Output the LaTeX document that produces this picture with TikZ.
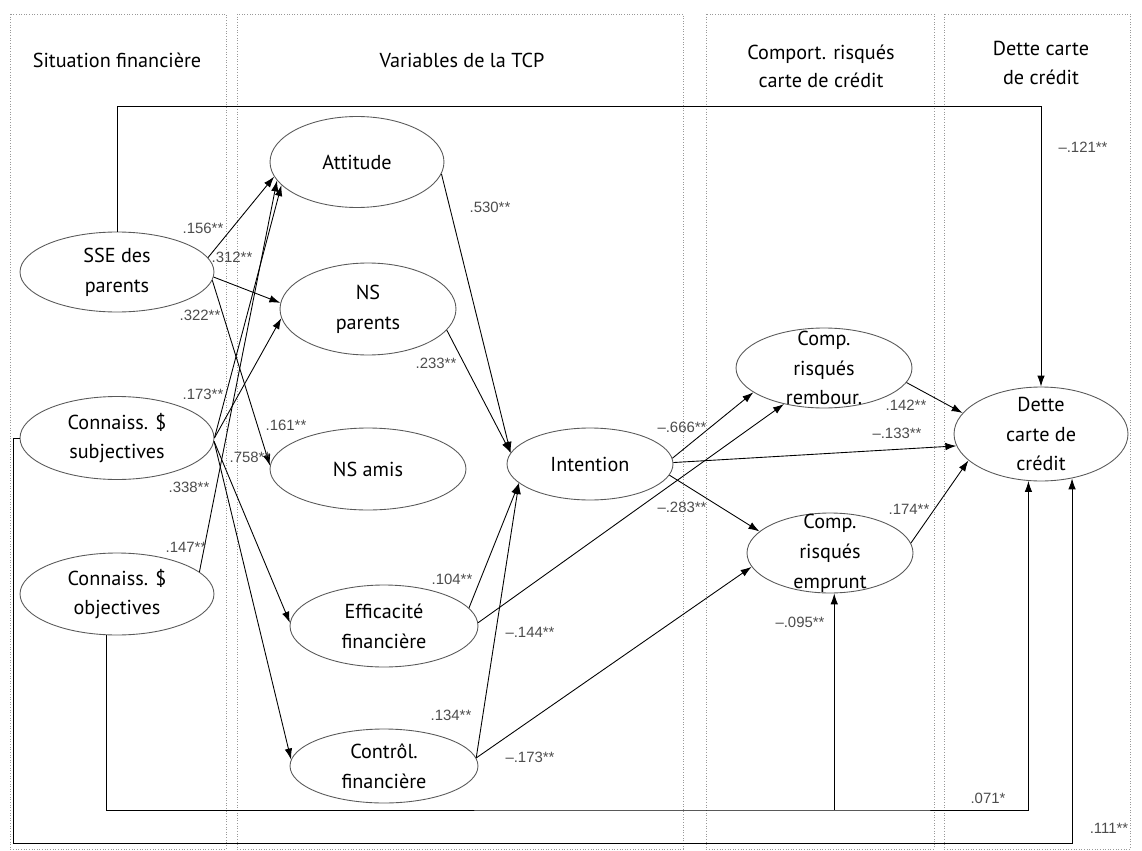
\documentclass[tikz,border=0pt]{standalone}
\usepackage{fontspec}
\setmainfont{PT Sans}
\newfontfamily\coeffont{Liberation Sans}
\usepackage{xcolor}
\usetikzlibrary{shapes.geometric,arrows.meta}

\definecolor{panelgray}{gray}{0.6}
\definecolor{ovalgray}{gray}{0.35}
\definecolor{coefgray}{gray}{0.3}

\begin{document}
\begin{tikzpicture}[x=0.02cm, y=-0.02cm]
        \tikzset{latent/.style={
            ellipse,
            draw=ovalgray,
            line width=0.5pt,
            inner sep=0pt,
            %
            label={[font=\fontsize{11.5}{17}\selectfont, align=center]center:#1},
        }}
        \tikzset{arrow/.style={
            line width=0.5pt,
            ->,
            >={Latex[length=2.2mm, width=1.5mm]}
        }}
        \tikzset{coef/.style={
            font=\coeffont\fontsize{8.5}{10}\selectfont,
            text=coefgray,
            inner sep=0pt
        }}
        \tikzset{panel/.style={
            draw=panelgray,
            densely dotted,
            line width=0.5pt
        }}
        \tikzset{head/.style={
            font=\fontsize{11.5}{16}\selectfont,
            align=center
        }}
        \useasboundingbox (0,0) rectangle (1142,851);

        % colonnes
        \draw[panel] (10,14) rectangle (226,849);
        \draw[panel] (237,14) rectangle (683,849);
        \draw[panel] (706,14) rectangle (934,849);
        \draw[panel] (944,14) rectangle (1130,849);
        \node[head] (h1) at (117,60) {Situation financière};
        \node[head] (h2) at (462,60) {Variables de la TCP};
        \node[head] (h3) at (821,66) {Comport. risqués\\carte de crédit};
        \node[head] (h4) at (1041,63) {Dette carte\\de crédit};

        % variables
        \node[latent={SSE des\\parents}, minimum width=3.88cm, minimum height=1.6cm] (sse) at (117,272) {};
        \node[latent={Connaiss. \$\\subjectives}, minimum width=3.88cm, minimum height=1.66cm] (subj) at (117,438) {};
        \node[latent={Connaiss. \$\\objectives}, minimum width=3.88cm, minimum height=1.64cm] (obj) at (117,594) {};
        \node[latent={Attitude}, minimum width=3.48cm, minimum height=1.82cm] (att) at (357,162) {};
        \node[latent={NS\\parents}, minimum width=3.52cm, minimum height=1.84cm] (nsp) at (368,309) {};
        \node[latent={NS amis}, minimum width=3.92cm, minimum height=1.64cm] (nsa) at (368,469) {};
        \node[latent={Efficacité\\financière}, minimum width=3.76cm, minimum height=1.64cm] (eff) at (384,626) {};
        \node[latent={Contrôl.\\financière}, minimum width=3.76cm, minimum height=1.48cm] (ctl) at (384,766) {};
        \node[latent={Intention}, minimum width=3.32cm, minimum height=1.44cm] (int) at (590,464) {};
        \node[latent={Comp.\\risqués\\rembour.}, minimum width=3.52cm, minimum height=1.6cm] (remb) at (824,368) {};
        \node[latent={Comp.\\risqués\\emprunt}, minimum width=3.32cm, minimum height=1.6cm] (empr) at (830,553) {};
        \node[latent={Dette\\carte de\\crédit}, minimum width=3.48cm, minimum height=1.88cm] (dette) at (1041,434) {};

        % situation financiere -> TCP
        \draw[arrow] (sse.9) -- (att.190);
        \draw[arrow] (sse.-3) -- (nsp.176);
        \draw[arrow] (sse.-5) -- (nsa.178);
        \draw[arrow] (subj.east) -- (att.197);
        \draw[arrow] (subj.east) -- (nsp.186);
        \draw[arrow] (subj.-2) -- (eff.178);
        \draw[arrow] (subj.-2) -- (ctl.176);
        \draw[arrow] (obj.15) -- (att.193);

        % TCP -> intention / comportements
        \draw[arrow] (att.-8) -- (int.172);
        \draw[arrow] (nsp.-15) -- (int.172);
        \draw[arrow] (eff.12) -- (int.195);
        \draw[arrow] (ctl.5) -- (int.195);
        \draw[arrow] (eff.2) -- (remb.222);
        \draw[arrow] (ctl.5) -- (empr.190);
        \draw[arrow] (int.4) -- (remb.199);
        \draw[arrow] (int.1) -- (dette.188);
        \draw[arrow] (int.-8) -- (empr.163);
        \draw[arrow] (remb.-10) -- (dette.165);
        \draw[arrow] (empr.7) -- (dette.200);

        % chemins directs
        \coordinate (top1) at (117,106);
        \draw[arrow] (sse.north) -- (top1) -| (dette.north);
        \coordinate (branch) at (empr.-84 |- 0,810);
        \draw[arrow] (obj.-104) |- (branch) -| (dette.-105);
        \draw[arrow] (branch) -- (empr.-84);
        \coordinate (low2) at (13,843);
        \draw[arrow] (subj.west) -| (low2) -| (dette.-55);

        % coefficients
        \node[coef] (c1) at (203,228) {.156**};
        \node[coef] (c2) at (232,257) {.312**};
        \node[coef] (c3) at (200,315) {.322**};
        \node[coef] (c4) at (203,394) {.173**};
        \node[coef] (c5) at (286,425) {.161**};
        \node[coef] (c6) at (250,457) {.758**};
        \node[coef] (c7) at (189,487) {.338**};
        \node[coef] (c8) at (186,547) {.147**};
        \node[coef] (c9) at (490,207) {.530**};
        \node[coef] (c10) at (436,363) {.233**};
        \node[coef] (c11) at (682,427) {–.666**};
        \node[coef] (c12) at (682,507) {–.283**};
        \node[coef] (c13) at (452,579) {.104**};
        \node[coef] (c14) at (530,632) {–.144**};
        \node[coef] (c15) at (451,715) {.134**};
        \node[coef] (c16) at (530,757) {–.173**};
        \node[coef] (c17) at (906,405) {.142**};
        \node[coef] (c18) at (897,433) {–.133**};
        \node[coef] (c19) at (909,509) {.174**};
        \node[coef] (c20) at (800,622) {–.095**};
        \node[coef] (c21) at (988,798) {.071*};
        \node[coef] (c22) at (1109,828) {.111**};
        \node[coef] (c23) at (1083,147) {–.121**};
\end{tikzpicture}
\end{document}
